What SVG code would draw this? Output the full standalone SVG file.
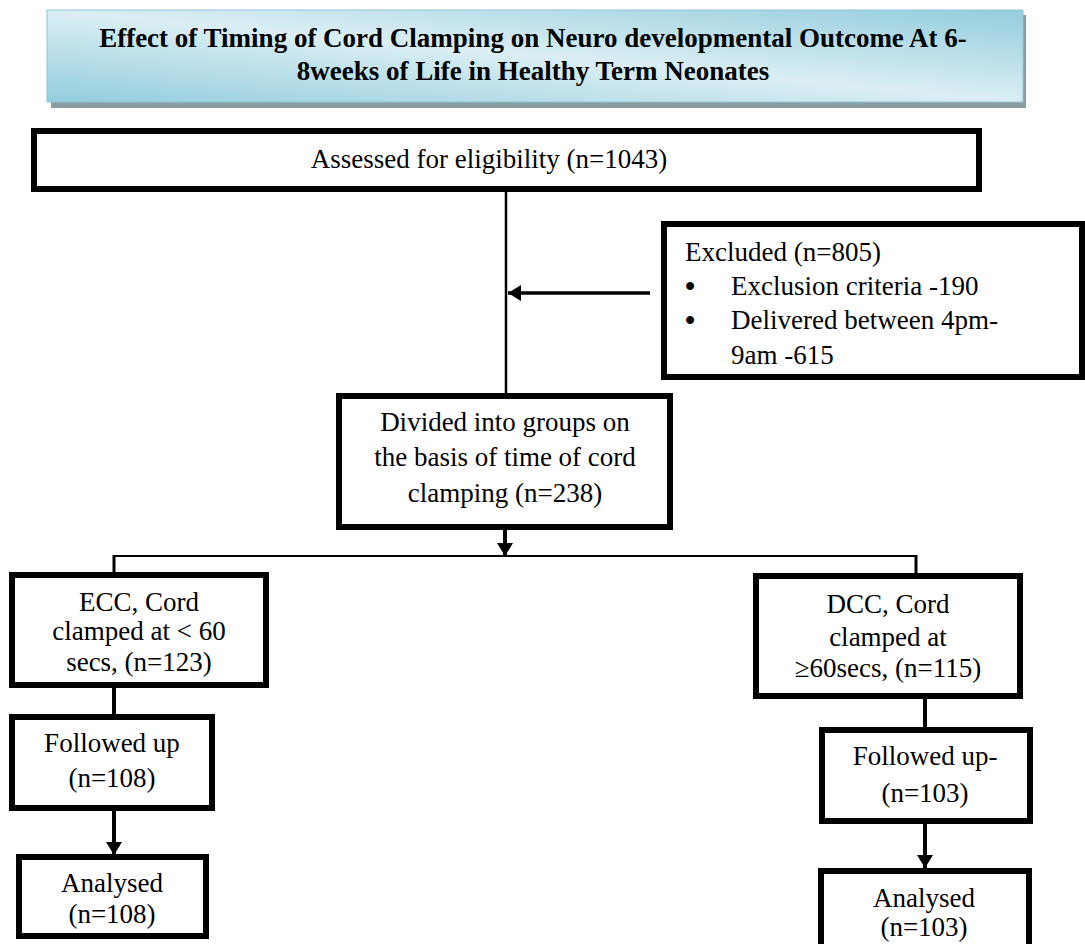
<svg xmlns="http://www.w3.org/2000/svg" width="1085" height="944" viewBox="0 0 1085 944">
<defs>
<linearGradient id="titleGrad" x1="0" y1="1" x2="1" y2="0">
<stop offset="0" stop-color="#93cddd"/>
<stop offset="0.5" stop-color="#dbeef4"/>
<stop offset="1" stop-color="#93cddd"/>
</linearGradient>
<marker id="arrow" markerUnits="userSpaceOnUse" markerWidth="14" markerHeight="16" refX="13" refY="8" orient="auto">
<path d="M0,0 L13,8 L0,16 z" fill="#000"/>
</marker>
<style>
.box{fill:#fff;stroke:#000;stroke-width:6}
.t{font-family:"Liberation Serif","Times New Roman",serif;font-size:27px;fill:#000}
.c{text-anchor:middle}
.title{font-weight:bold}
.bul{font-size:29px;font-weight:bold}
.ln{fill:none;stroke:#000;stroke-width:4}
.thin{fill:none;stroke:#000;stroke-width:2}
</style>
</defs>
<rect x="0" y="0" width="1085" height="944" fill="#fff"/>

<g id="title">
<rect x="51" y="15" width="975" height="93" fill="#8a9ca4"/>
<rect x="47" y="10" width="976" height="92" fill="url(#titleGrad)" stroke="#8fc7d6" stroke-width="1"/>
<text class="t title c" x="533" y="47">Effect of Timing of Cord Clamping on Neuro developmental Outcome At 6-</text>
<text class="t title c" x="533" y="80">8weeks of Life in Healthy Term Neonates</text>
</g>

<g id="connectors">
<line class="ln" x1="506" y1="192" x2="506" y2="393" style="stroke-width:2.5"/>
<line class="ln" x1="650" y1="293" x2="508" y2="293" style="stroke-width:3.5" marker-end="url(#arrow)"/>
<line class="ln" x1="505" y1="530" x2="505" y2="556" marker-end="url(#arrow)"/>
<line class="thin" x1="113" y1="556" x2="917" y2="556"/>
<line class="ln" x1="114" y1="555" x2="114" y2="573" style="stroke-width:3"/>
<line class="ln" x1="916" y1="555" x2="916" y2="574" style="stroke-width:3"/>
<line class="ln" x1="114" y1="688" x2="114" y2="714"/>
<line class="ln" x1="114" y1="811" x2="114" y2="855" marker-end="url(#arrow)"/>
<line class="ln" x1="925" y1="699" x2="925" y2="727"/>
<line class="ln" x1="925" y1="824" x2="925" y2="868" marker-end="url(#arrow)"/>
</g>

<g id="assessed">
<rect class="box" x="34" y="131" width="945" height="58"/>
<text class="t c" x="489" y="168">Assessed for eligibility (n=1043)</text>
</g>

<g id="excluded">
<rect class="box" x="664" y="224" width="418" height="153"/>
<text class="t" x="685" y="261">Excluded (n=805)</text>
<text class="t c bul" x="690" y="296">•</text>
<text class="t" x="731" y="295">Exclusion criteria -190</text>
<text class="t c bul" x="690" y="330">•</text>
<text class="t" x="731" y="329">Delivered between 4pm-</text>
<text class="t" x="731" y="364">9am -615</text>
</g>

<g id="divided">
<rect class="box" x="339" y="396" width="331" height="131"/>
<text class="t c" x="505" y="431">Divided into groups on</text>
<text class="t c" x="505" y="466">the basis of time of cord</text>
<text class="t c" x="505" y="502">clamping (n=238)</text>
</g>

<g id="ecc">
<rect class="box" x="12" y="575" width="254" height="110"/>
<text class="t c" x="139" y="611">ECC, Cord</text>
<text class="t c" x="139" y="640">clamped at &lt; 60</text>
<text class="t c" x="139" y="671">secs, (n=123)</text>
</g>

<g id="dcc">
<rect class="box" x="756" y="576" width="264" height="120"/>
<text class="t c" x="888" y="613">DCC, Cord</text>
<text class="t c" x="888" y="646">clamped at</text>
<text class="t c" x="888" y="677">≥60secs, (n=115)</text>
</g>

<g id="followup-ecc">
<rect class="box" x="12" y="717" width="200" height="91"/>
<text class="t c" x="112" y="752">Followed up</text>
<text class="t c" x="112" y="787">(n=108)</text>
</g>

<g id="analysed-ecc">
<rect class="box" x="19" y="857" width="187" height="79"/>
<text class="t c" x="112" y="892">Analysed</text>
<text class="t c" x="112" y="923">(n=108)</text>
</g>

<g id="followup-dcc">
<rect class="box" x="822" y="730" width="208" height="91"/>
<text class="t c" x="925" y="765">Followed up-</text>
<text class="t c" x="925" y="802">(n=103)</text>
</g>

<g id="analysed-dcc">
<rect class="box" x="821" y="871" width="208" height="80"/>
<text class="t c" x="924" y="907">Analysed</text>
<text class="t c" x="924" y="936">(n=103)</text>
</g>
</svg>
